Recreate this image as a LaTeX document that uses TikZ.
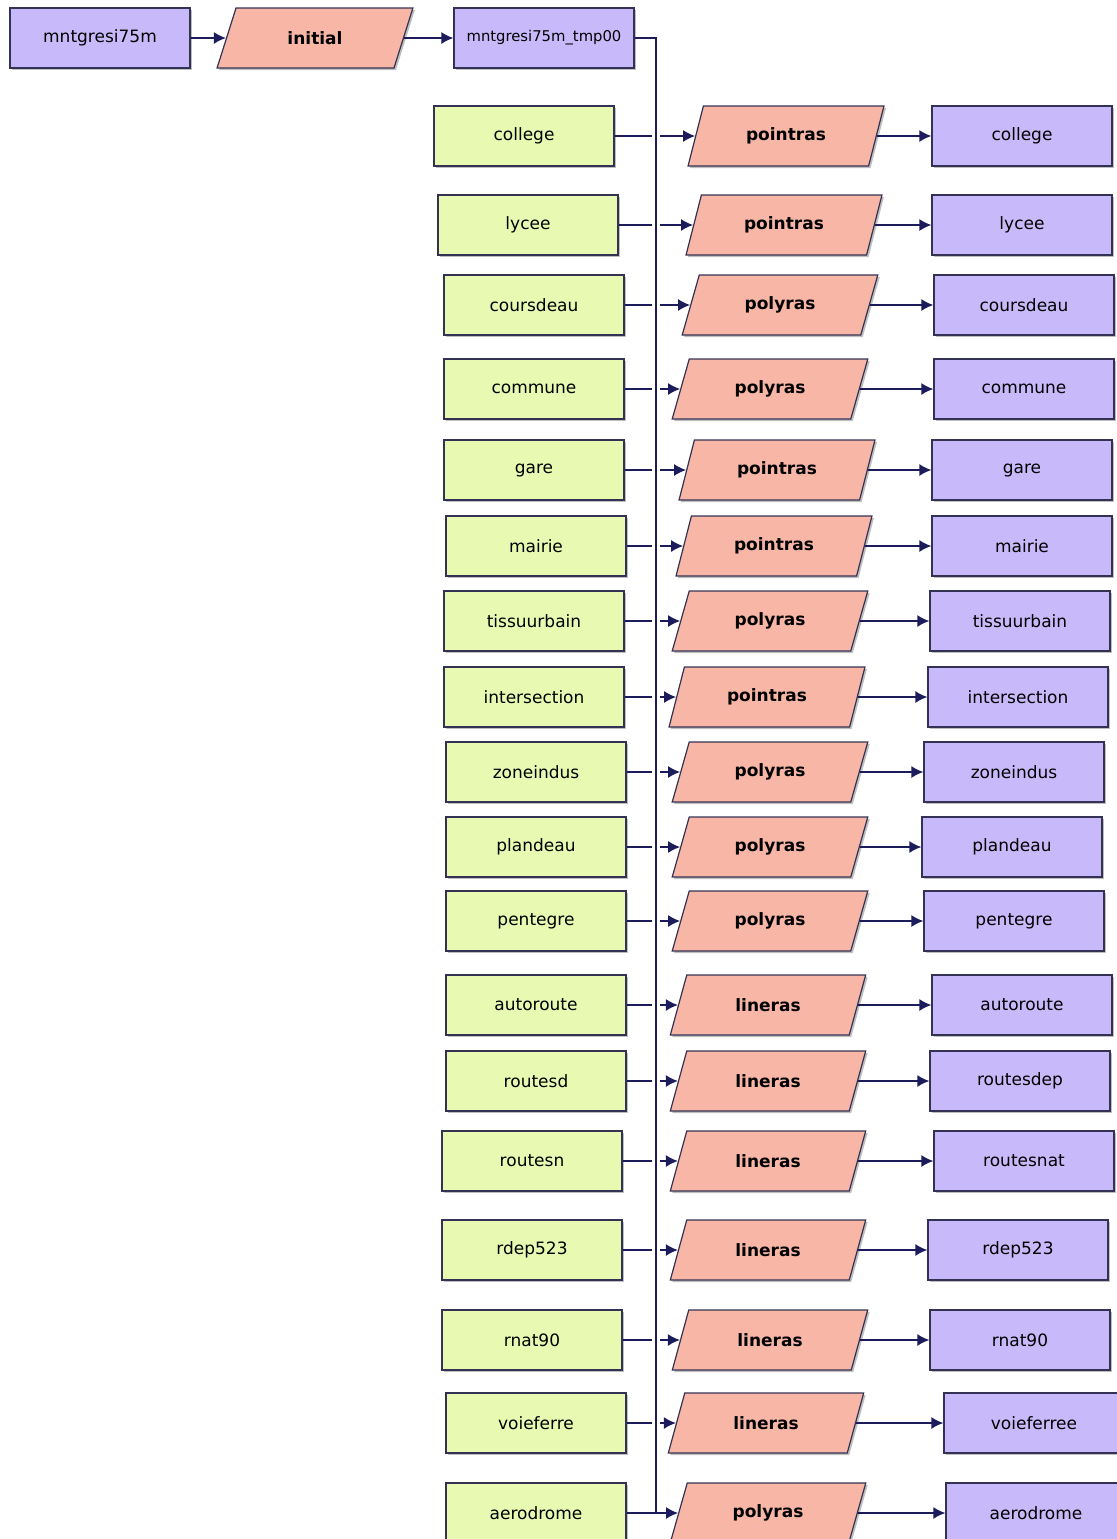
\documentclass[tikz,border=0pt]{standalone}
\usepackage{fontspec}
\setmainfont{DejaVu Sans}
\usepackage{tikz}
\usetikzlibrary{positioning, shapes.geometric, arrows.meta, shadows}

\definecolor{inputgreen}{RGB}{232,250,178}
\definecolor{outputviolet}{RGB}{200,186,250}
\definecolor{toolpink}{RGB}{247,182,166}
\definecolor{edgeline}{RGB}{52,50,84}
\definecolor{flowline}{RGB}{28,28,92}

\tikzset{
  boxbase/.style={draw=edgeline, line width=0.6pt, minimum width=90pt, minimum height=30pt,
    font=\fontsize{8.5pt}{10pt}\selectfont,
    drop shadow={shadow xshift=1pt, shadow yshift=-1pt, fill=black!50, opacity=0.5}},
  inbox/.style={boxbase, fill=inputgreen},
  outbox/.style={boxbase, fill=outputviolet},
  toolbox/.style={boxbase, fill=toolpink, shape=trapezium, trapezium left angle=76,
    trapezium right angle=104, trapezium stretches=true, minimum width=98pt, inner xsep=0pt,
    font=\fontsize{8.5pt}{10pt}\selectfont\bfseries},
  link/.style={draw=flowline, line width=0.8pt},
  flow/.style={link, -{Latex[length=6pt,width=6pt]}}
}

\begin{document}
\begin{tikzpicture}[x=0.5pt, y=-0.5pt]
\useasboundingbox (0,0) rectangle (1117,1539);

% top row
\node (dem) [outbox] at (100,38) {mntgresi75m};
\node (initial) [toolbox] at (315,38) {initial};
\node (tmp) [outbox, font=\fontsize{7.4pt}{9pt}\selectfont] at (544,38) {mntgresi75m\_tmp00};

\draw[flow] (dem) -- (initial);
\draw[flow] (initial) -- (tmp);

% layers
\node (college) [inbox] at (524,136) {college};
\node (college-tool) [toolbox] at (786,136) {pointras};
\node (college-out) [outbox] at (1022,136) {college};

\node (lycee) [inbox] at (528,225) {lycee};
\node (lycee-tool) [toolbox] at (784,225) {pointras};
\node (lycee-out) [outbox] at (1022,225) {lycee};

\node (coursdeau) [inbox] at (534,305) {coursdeau};
\node (coursdeau-tool) [toolbox] at (780,305) {polyras};
\node (coursdeau-out) [outbox] at (1024,305) {coursdeau};

\node (commune) [inbox] at (534,389) {commune};
\node (commune-tool) [toolbox] at (770,389) {polyras};
\node (commune-out) [outbox] at (1024,389) {commune};

\node (gare) [inbox] at (534,470) {gare};
\node (gare-tool) [toolbox] at (777,470) {pointras};
\node (gare-out) [outbox] at (1022,470) {gare};

\node (mairie) [inbox] at (536,546) {mairie};
\node (mairie-tool) [toolbox] at (774,546) {pointras};
\node (mairie-out) [outbox] at (1022,546) {mairie};

\node (tissu) [inbox] at (534,621) {tissuurbain};
\node (tissu-tool) [toolbox] at (770,621) {polyras};
\node (tissu-out) [outbox] at (1020,621) {tissuurbain};

\node (inter) [inbox] at (534,697) {intersection};
\node (inter-tool) [toolbox] at (767,697) {pointras};
\node (inter-out) [outbox] at (1018,697) {intersection};

\node (zone) [inbox] at (536,772) {zoneindus};
\node (zone-tool) [toolbox] at (770,772) {polyras};
\node (zone-out) [outbox] at (1014,772) {zoneindus};

\node (plan) [inbox] at (536,847) {plandeau};
\node (plan-tool) [toolbox] at (770,847) {polyras};
\node (plan-out) [outbox] at (1012,847) {plandeau};

\node (pente) [inbox] at (536,921) {pentegre};
\node (pente-tool) [toolbox] at (770,921) {polyras};
\node (pente-out) [outbox] at (1014,921) {pentegre};

\node (auto) [inbox] at (536,1005) {autoroute};
\node (auto-tool) [toolbox] at (768,1005) {lineras};
\node (auto-out) [outbox] at (1022,1005) {autoroute};

\node (rd) [inbox] at (536,1081) {routesd};
\node (rd-tool) [toolbox] at (768,1081) {lineras};
\node (rd-out) [outbox] at (1020,1081) {routesdep};

\node (rn) [inbox] at (532,1161) {routesn};
\node (rn-tool) [toolbox] at (768,1161) {lineras};
\node (rn-out) [outbox] at (1024,1161) {routesnat};

\node (rdep) [inbox] at (532,1250) {rdep523};
\node (rdep-tool) [toolbox] at (768,1250) {lineras};
\node (rdep-out) [outbox] at (1018,1250) {rdep523};

\node (rnat) [inbox] at (532,1340) {rnat90};
\node (rnat-tool) [toolbox] at (770,1340) {lineras};
\node (rnat-out) [outbox] at (1020,1340) {rnat90};

\node (voie) [inbox] at (536,1423) {voieferre};
\node (voie-tool) [toolbox] at (766,1423) {lineras};
\node (voie-out) [outbox] at (1034,1423) {voieferree};

\node (aero) [inbox] at (536,1513) {aerodrome};
\node (aero-tool) [toolbox] at (768,1513) {polyras};
\node (aero-out) [outbox] at (1036,1513) {aerodrome};

% bus from the temporary raster
\coordinate (bus-end) at (656,1513);
\draw[link] (tmp) -| (bus-end);
\draw[flow] (bus-end) -- (aero-tool);
\draw[link] (aero) -- (bus-end);
\draw[flow] (aero-tool) -- (aero-out);

\foreach \n in {college, lycee, coursdeau, commune, gare, mairie, tissu, inter, zone, plan, pente, auto, rd, rn, rdep, rnat, voie} {
  \coordinate (\n-j) at (bus-end |- \n);
  \draw[link, shorten >=2pt] (\n) -- (\n-j);
  \draw[flow, shorten <=2pt] (\n-j) -- (\n-tool);
  \draw[flow] (\n-tool) -- (\n-out);
}
\end{tikzpicture}
\end{document}
